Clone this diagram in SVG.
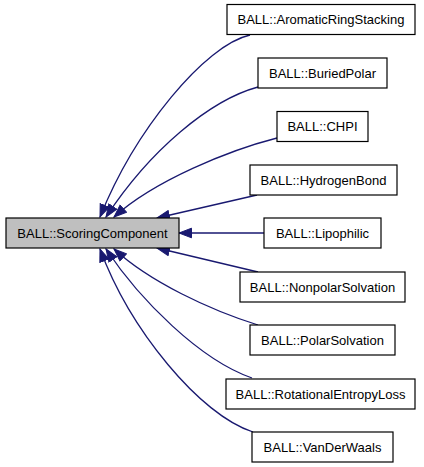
<svg xmlns="http://www.w3.org/2000/svg" width="424" height="467" viewBox="0 0 424 467">
<style>
.box{fill:#ffffff;stroke:#000000;stroke-width:1.2}
.base{fill:#bfbfbf;stroke:#000000;stroke-width:1.2}
.lbl{font-family:"Liberation Sans",Arial,Helvetica,sans-serif;font-size:13px;fill:#000000;text-anchor:middle}
.edge{fill:none;stroke:#191970;stroke-width:1.3;marker-end:url(#arr)}
</style>
<defs>
<marker id="arr" markerUnits="userSpaceOnUse" markerWidth="14" markerHeight="12" viewBox="0 -6 13 12" refX="12.5" refY="0" orient="auto">
<path d="M0,-4.8 L12.5,0 L0,4.8 Z" fill="#191970" stroke="#191970" stroke-width="1"/>
</marker>
</defs>
<rect width="424" height="467" fill="#ffffff"/>
<g id="connectors">
<path class="edge" d="M250,35 C205,45 135,130 100,217"/>
<path class="edge" d="M258,87 C210,100 150,150 106,217"/>
<path class="edge" d="M277,138 C230,150 155,180 114,217"/>
<path class="edge" d="M257,195 L157,218"/>
<path class="edge" d="M264,233 L179,233"/>
<path class="edge" d="M258,272 L157,248"/>
<path class="edge" d="M258,325 C210,310 150,282 114,249"/>
<path class="edge" d="M252,378 C200,360 140,300 106,249"/>
<path class="edge" d="M253,432 C200,415 130,330 100,249"/>
</g>
<g id="ScoringComponent"><rect class="base" x="6" y="218" width="173" height="30"/><text class="lbl" x="92.5" y="237.5">BALL::ScoringComponent</text></g>
<g id="AromaticRingStacking"><rect class="box" x="227" y="4.5" width="188" height="30"/><text class="lbl" x="321" y="24">BALL::AromaticRingStacking</text></g>
<g id="BuriedPolar"><rect class="box" x="258" y="58" width="129" height="30"/><text class="lbl" x="322.5" y="77.5">BALL::BuriedPolar</text></g>
<g id="CHPI"><rect class="box" x="277" y="111.5" width="91" height="30"/><text class="lbl" x="322.5" y="131">BALL::CHPI</text></g>
<g id="HydrogenBond"><rect class="box" x="250" y="165" width="147" height="30"/><text class="lbl" x="323.5" y="184.5">BALL::HydrogenBond</text></g>
<g id="Lipophilic"><rect class="box" x="264" y="218" width="117" height="30"/><text class="lbl" x="322.5" y="237.5">BALL::Lipophilic</text></g>
<g id="NonpolarSolvation"><rect class="box" x="240" y="272" width="165" height="30"/><text class="lbl" x="322.5" y="291.5">BALL::NonpolarSolvation</text></g>
<g id="PolarSolvation"><rect class="box" x="250" y="325" width="145" height="30"/><text class="lbl" x="322.5" y="344.5">BALL::PolarSolvation</text></g>
<g id="RotationalEntropyLoss"><rect class="box" x="226" y="379" width="189" height="30"/><text class="lbl" x="320.5" y="398.5">BALL::RotationalEntropyLoss</text></g>
<g id="VanDerWaals"><rect class="box" x="252" y="432" width="141" height="30"/><text class="lbl" x="322.5" y="451.5">BALL::VanDerWaals</text></g>
</svg>
